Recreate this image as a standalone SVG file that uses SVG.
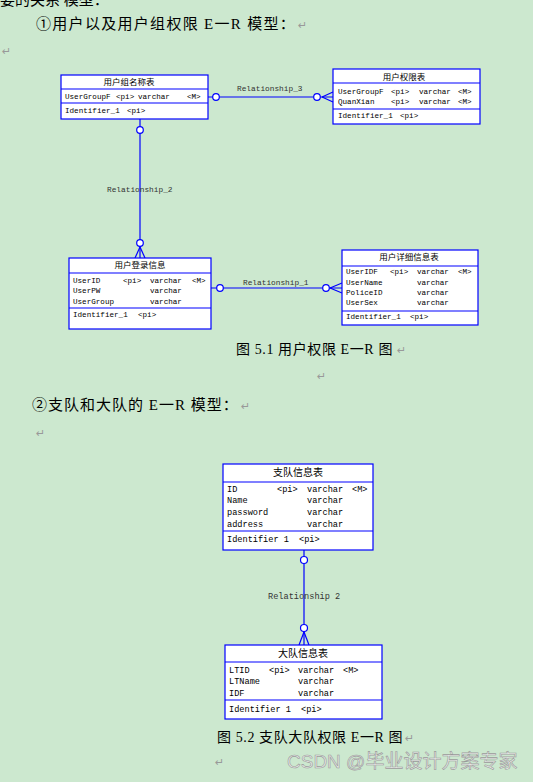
<svg xmlns="http://www.w3.org/2000/svg" width="533" height="782" viewBox="0 0 533 782">
<style>
.bg{fill:#cce8cf}
.tb{fill:#ffffff;stroke:#0000ff;stroke-width:1.2}
.ln{stroke:#0000ff;stroke-width:1.2;fill:none}
.cl{stroke:#0000ff;stroke-width:1.2;fill:#ffffff}
.hd{font-family:"Liberation Serif","Noto Sans CJK SC",serif;font-size:8.5px;fill:#000;text-anchor:middle}
.hd2{font-family:"Liberation Serif","Noto Sans CJK SC",serif;font-size:10px;fill:#000;text-anchor:middle}
.at{font-family:"Liberation Mono",monospace;font-size:7.6px;fill:#000}
.at2{font-family:"Liberation Mono",monospace;font-size:8.6px;fill:#000}
.rl{font-family:"Liberation Mono",monospace;font-size:7.8px;fill:#333}
.rl2{font-family:"Liberation Mono",monospace;font-size:8.6px;fill:#333}
.body{font-family:"Liberation Serif","Noto Sans CJK SC",serif;font-size:15px;fill:#000}
.cap{font-family:"Liberation Serif","Noto Sans CJK SC",serif;font-size:14px;fill:#000}
.ret{font-family:"DejaVu Sans",sans-serif;font-size:11px;fill:#999}
.wm{font-family:"Liberation Sans","Noto Sans CJK SC",sans-serif;font-size:19px;fill:#e6e9e6;stroke:#9a9a9a;stroke-width:0.6}
</style>
<rect class="bg" x="0" y="0" width="533" height="782"/>

<!-- body text -->
<text class="body" x="0" y="5">要的关系 模型：</text>
<text class="body" x="36" y="29" letter-spacing="1.3">①用户以及用户组权限 E一R 模型：</text>
<text class="ret" x="298" y="29">↵</text>
<text class="ret" x="2" y="55">↵</text>
<text class="cap" x="236" y="354" letter-spacing="0.6">图 5.1  用户权限 E一R 图</text>
<text class="ret" x="397" y="354">↵</text>
<text class="ret" x="317" y="380">↵</text>
<text class="body" x="32" y="410" letter-spacing="1">②支队和大队的 E一R 模型：</text>
<text class="ret" x="241" y="410">↵</text>
<text class="ret" x="36" y="437">↵</text>
<text class="cap" x="217" y="742" letter-spacing="0.6">图 5.2 支队大队权限 E一R 图</text>
<text class="ret" x="405" y="742">↵</text>
<text class="ret" x="215" y="766">↵</text>
<text class="wm" x="287" y="768">CSDN @毕业设计方案专家</text>

<!-- connectors -->
<g id="connectors">
  <!-- Relationship_3 -->
  <line class="ln" x1="208" y1="97" x2="333" y2="97"/>
  <line class="ln" x1="322" y1="97" x2="333" y2="92"/>
  <line class="ln" x1="322" y1="97" x2="333" y2="102"/>
  <circle class="cl" cx="216" cy="97" r="3.3"/>
  <circle class="cl" cx="317" cy="97" r="3.3"/>
  <text class="rl" x="237" y="91">Relationship_3</text>
  <!-- Relationship_2 -->
  <line class="ln" x1="140" y1="119" x2="140" y2="258"/>
  <line class="ln" x1="140" y1="247" x2="135" y2="258"/>
  <line class="ln" x1="140" y1="247" x2="145" y2="258"/>
  <circle class="cl" cx="140" cy="130" r="3.3"/>
  <circle class="cl" cx="140" cy="243" r="3.3"/>
  <text class="rl" x="107" y="192">Relationship_2</text>
  <!-- Relationship_1 -->
  <line class="ln" x1="211" y1="288" x2="342" y2="288"/>
  <line class="ln" x1="330" y1="288" x2="342" y2="283"/>
  <line class="ln" x1="330" y1="288" x2="342" y2="293"/>
  <circle class="cl" cx="220" cy="288" r="3.3"/>
  <circle class="cl" cx="326" cy="288" r="3.3"/>
  <text class="rl" x="243" y="285">Relationship_1</text>
  <!-- Relationship 2 (diagram 2) -->
  <line class="ln" x1="304" y1="550" x2="304" y2="645"/>
  <line class="ln" x1="304" y1="632" x2="299" y2="645"/>
  <line class="ln" x1="304" y1="632" x2="309" y2="645"/>
  <circle class="cl" cx="304" cy="560" r="3.5"/>
  <circle class="cl" cx="304" cy="628" r="3.5"/>
  <text class="rl2" x="268" y="599">Relationship 2</text>
</g>

<!-- 用户组名称表 -->
<g id="t_usergroup">
  <rect class="tb" x="61" y="75" width="147" height="44"/>
  <line class="ln" x1="61" y1="89" x2="208" y2="89"/>
  <line class="ln" x1="61" y1="103" x2="208" y2="103"/>
  <text class="hd" x="129" y="85">用户组名称表</text>
  <text class="at" x="65" y="99">UserGroupF</text>
  <text class="at" x="116" y="99">&lt;pi&gt;</text>
  <text class="at" x="138" y="99">varchar</text>
  <text class="at" x="187" y="99">&lt;M&gt;</text>
  <text class="at" x="65" y="113">Identifier_1</text>
  <text class="at" x="127" y="113">&lt;pi&gt;</text>
</g>

<!-- 用户权限表 -->
<g id="t_userright">
  <rect class="tb" x="333" y="69" width="147" height="55"/>
  <line class="ln" x1="333" y1="83" x2="480" y2="83"/>
  <line class="ln" x1="333" y1="109" x2="480" y2="109"/>
  <text class="hd" x="404" y="80">用户权限表</text>
  <text class="at" x="338" y="94">UserGroupF</text>
  <text class="at" x="391" y="94">&lt;pi&gt;</text>
  <text class="at" x="419" y="94">varchar</text>
  <text class="at" x="458" y="94">&lt;M&gt;</text>
  <text class="at" x="338" y="104">QuanXian</text>
  <text class="at" x="391" y="104">&lt;pi&gt;</text>
  <text class="at" x="419" y="104">varchar</text>
  <text class="at" x="458" y="104">&lt;M&gt;</text>
  <text class="at" x="338" y="118">Identifier_1</text>
  <text class="at" x="400" y="118">&lt;pi&gt;</text>
</g>

<!-- 用户登录信息 -->
<g id="t_userlogin">
  <rect class="tb" x="69" y="258" width="142" height="71"/>
  <line class="ln" x1="69" y1="273" x2="211" y2="273"/>
  <line class="ln" x1="69" y1="308" x2="211" y2="308"/>
  <text class="hd" x="140" y="268">用户登录信息</text>
  <text class="at" x="73" y="283">UserID</text>
  <text class="at" x="123" y="283">&lt;pi&gt;</text>
  <text class="at" x="150" y="283">varchar</text>
  <text class="at" x="192" y="283">&lt;M&gt;</text>
  <text class="at" x="73" y="293">UserPW</text>
  <text class="at" x="150" y="293">varchar</text>
  <text class="at" x="73" y="304">UserGroup</text>
  <text class="at" x="150" y="304">varchar</text>
  <text class="at" x="73" y="317">Identifier_1</text>
  <text class="at" x="138" y="317">&lt;pi&gt;</text>
</g>

<!-- 用户详细信息表 -->
<g id="t_userdetail">
  <rect class="tb" x="342" y="250" width="136" height="75"/>
  <line class="ln" x1="342" y1="266" x2="478" y2="266"/>
  <line class="ln" x1="342" y1="311" x2="478" y2="311"/>
  <text class="hd" x="409" y="260">用户详细信息表</text>
  <text class="at" x="346" y="274">UserIDF</text>
  <text class="at" x="390" y="274">&lt;pi&gt;</text>
  <text class="at" x="417" y="274">varchar</text>
  <text class="at" x="458" y="274">&lt;M&gt;</text>
  <text class="at" x="346" y="285">UserName</text>
  <text class="at" x="417" y="285">varchar</text>
  <text class="at" x="346" y="295">PoliceID</text>
  <text class="at" x="417" y="295">varchar</text>
  <text class="at" x="346" y="305">UserSex</text>
  <text class="at" x="417" y="305">varchar</text>
  <text class="at" x="346" y="319">Identifier_1</text>
  <text class="at" x="410" y="319">&lt;pi&gt;</text>
</g>

<!-- 支队信息表 -->
<g id="t_zhidui">
  <rect class="tb" x="223" y="464" width="150" height="86"/>
  <line class="ln" x1="223" y1="482" x2="373" y2="482"/>
  <line class="ln" x1="223" y1="531" x2="373" y2="531"/>
  <text class="hd2" x="298" y="476">支队信息表</text>
  <text class="at2" x="227" y="492">ID</text>
  <text class="at2" x="277" y="492">&lt;pi&gt;</text>
  <text class="at2" x="307" y="492">varchar</text>
  <text class="at2" x="352" y="492">&lt;M&gt;</text>
  <text class="at2" x="227" y="503">Name</text>
  <text class="at2" x="307" y="503">varchar</text>
  <text class="at2" x="227" y="515">password</text>
  <text class="at2" x="307" y="515">varchar</text>
  <text class="at2" x="227" y="527">address</text>
  <text class="at2" x="307" y="527">varchar</text>
  <text class="at2" x="227" y="542">Identifier 1</text>
  <text class="at2" x="299" y="542">&lt;pi&gt;</text>
</g>

<!-- 大队信息表 -->
<g id="t_dadui">
  <rect class="tb" x="225" y="645" width="157" height="74"/>
  <line class="ln" x1="225" y1="662" x2="382" y2="662"/>
  <line class="ln" x1="225" y1="700" x2="382" y2="700"/>
  <text class="hd2" x="303" y="657">大队信息表</text>
  <text class="at2" x="229" y="673">LTID</text>
  <text class="at2" x="269" y="673">&lt;pi&gt;</text>
  <text class="at2" x="298" y="673">varchar</text>
  <text class="at2" x="343" y="673">&lt;M&gt;</text>
  <text class="at2" x="229" y="684">LTName</text>
  <text class="at2" x="298" y="684">varchar</text>
  <text class="at2" x="229" y="696">IDF</text>
  <text class="at2" x="298" y="696">varchar</text>
  <text class="at2" x="229" y="712">Identifier 1</text>
  <text class="at2" x="301" y="712">&lt;pi&gt;</text>
</g>
</svg>
